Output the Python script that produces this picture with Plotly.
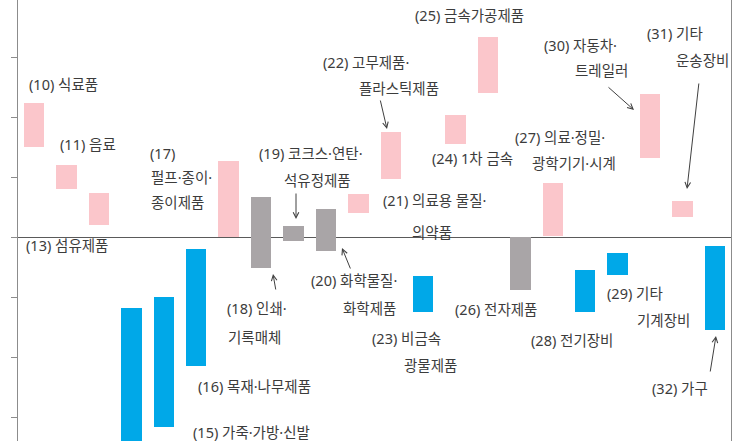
import plotly.graph_objects as go

# ---- data ----
codes = ["10", "11", "13", "14", "15", "16", "17", "18", "19", "20", "21",
         "22", "23", "24", "25", "26", "27", "28", "29", "30", "31", "32"]
high = [2.23, 1.20, 0.73, -1.18, -1.00, -0.20, 1.27, 0.67, 0.18, 0.47, 0.72,
        1.75, -0.65, 2.03, 3.33, 0.00, 0.90, -0.55, -0.27, 2.38, 0.60, -0.15]
low = [1.50, 0.80, 0.20, -3.60, -3.17, -2.15, 0.00, -0.52, -0.07, -0.23, 0.40,
       0.97, -1.25, 1.55, 2.40, -0.88, 0.02, -1.25, -0.63, 1.32, 0.33, -1.55]
group = ["up", "up", "up", "down", "down", "down", "up", "mix", "mix", "mix", "up",
         "up", "down", "up", "up", "mix", "up", "down", "down", "up", "up", "down"]

group_color = {"up": "#FBC6CB", "mix": "#A9A5A7", "down": "#00A8E8"}

# ---- layout geometry (pixels) ----
W, H = 738, 441
L, R = 18, 7
PLOT_W = W - L - R
SLOT = PLOT_W / len(codes)
Y_TOP, Y_BOT = 3.95, -3.4
UNIT = H / (Y_TOP - Y_BOT)
ZERO_PX = Y_TOP * UNIT


def xd(px):
    return (px - L) / SLOT - 0.5


def yd(py):
    return (ZERO_PX - py) / UNIT


labels = [
    ("(10) 식료품", 63, 84, "center"),
    ("(11) 음료", 88, 144, "center"),
    ("(17)", 148, 153, "left"),
    ("펄프·종이·", 149, 177, "left"),
    ("종이제품", 149, 202, "left"),
    ("(13) 섬유제품", 67, 245, "center"),
    ("(19) 코크스·연탄·", 311, 153, "center"),
    ("석유정제품", 317, 180, "center"),
    ("(22) 고무제품·", 366, 62, "center"),
    ("플라스틱제품", 399, 88, "center"),
    ("(25) 금속가공제품", 469, 15, "center"),
    ("(24) 1차 금속", 472, 158, "center"),
    ("(21) 의료용 물질·", 434, 200, "center"),
    ("의약품", 432, 232, "center"),
    ("(30) 자동차·", 580, 45, "center"),
    ("트레일러", 601, 70, "center"),
    ("(31) 기타", 675, 33, "center"),
    ("운송장비", 702, 60, "center"),
    ("(27) 의료·정밀·", 560, 137, "center"),
    ("광학기기·시계", 574, 163, "center"),
    ("(18) 인쇄·", 257, 308, "center"),
    ("기록매체", 254, 337, "center"),
    ("(20) 화학물질·", 354, 280, "center"),
    ("화학제품", 369, 308, "center"),
    ("(23) 비금속", 406, 338, "center"),
    ("광물제품", 430, 365, "center"),
    ("(26) 전자제품", 496, 309, "center"),
    ("(29) 기타", 635, 293, "center"),
    ("기계장비", 663, 320, "center"),
    ("(28) 전기장비", 572, 340, "center"),
    ("(32) 가구", 680, 388, "center"),
    ("(16) 목재·나무제품", 254, 386, "center"),
    ("(15) 가죽·가방·신발", 251, 432, "center"),
]

# arrows: (tail_px, tail_py, tip_px, tip_py)
arrows = [
    (296, 192, 296, 219),
    (380, 99, 387, 129),
    (276, 291, 273, 274),
    (351, 270, 342, 248),
    (607, 86, 634, 110),
    (699, 82, 687, 189),
    (710, 373, 716, 336),
]

fig = go.Figure()
fig.add_trace(go.Bar(
    x=list(range(len(codes))),
    y=[h - l for h, l in zip(high, low)],
    base=low,
    width=0.63,
    marker=dict(color=[group_color[g] for g in group], line=dict(width=0)),
    hovertext=codes,
    showlegend=False,
))

annotations = []
FONT = dict(family="Noto Sans, Noto Sans CJK KR, sans-serif", size=14.5, color="#3c3c3c")
for text, px, py, anchor in labels:
    annotations.append(dict(
        x=xd(px), y=yd(py), xref="x", yref="y", text=text, showarrow=False,
        xanchor=anchor, yanchor="middle", font=FONT,
    ))
for tx, ty, hx, hy in arrows:
    annotations.append(dict(
        x=xd(hx), y=yd(hy), xref="x", yref="y",
        ax=tx - hx, ay=ty - hy, axref="pixel", ayref="pixel",
        text="", showarrow=True, arrowhead=5, arrowsize=1.1, arrowwidth=1,
        arrowcolor="#404040", standoff=0,
    ))

fig.update_layout(
    width=W, height=H,
    margin=dict(l=L, r=R, t=0, b=0, pad=0),
    paper_bgcolor="white", plot_bgcolor="white",
    bargap=0,
    annotations=annotations,
    xaxis=dict(range=[-0.5, len(codes) - 0.5], showticklabels=False, showgrid=False,
               zeroline=False, showline=False, ticks=""),
    yaxis=dict(range=[Y_BOT, Y_TOP], tick0=0, dtick=1, showticklabels=False,
               ticks="outside", ticklen=6, tickcolor="#8c8c8c", tickwidth=1,
               showgrid=False, zeroline=True, zerolinecolor="#5a5a5a", zerolinewidth=1.3,
               showline=True, linecolor="#8c8c8c", linewidth=1, mirror=True),
)

fig.write_html("out.html")
